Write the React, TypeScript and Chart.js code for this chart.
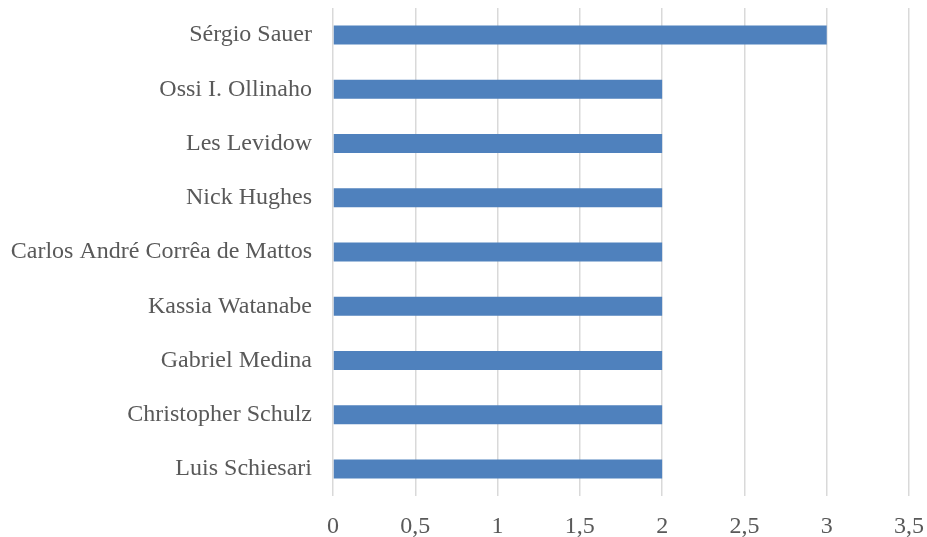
import React, { useEffect, useRef } from "react";
import { Chart, registerables } from "chart.js";

Chart.register(...registerables);

const categories = [
  "Sérgio Sauer",
  "Ossi I. Ollinaho",
  "Les Levidow",
  "Nick Hughes",
  "Carlos André Corrêa de Mattos",
  "Kassia Watanabe",
  "Gabriel Medina",
  "Christopher Schulz",
  "Luis Schiesari",
];
const values = [3, 2, 2, 2, 2, 2, 2, 2, 2];
const xMin = 0;
const xMax = 3.5;
const xStep = 0.5;

export default function App() {
  const ref = useRef<HTMLCanvasElement | null>(null);
  useEffect(() => {
    document.body.style.margin = "0";
    const font = { family: "'Liberation Serif', 'Times New Roman', serif", size: 24 };
    const chart = new Chart(ref.current!, {
      type: "bar",
      data: {
        labels: categories,
        datasets: [
          {
            data: values,
            backgroundColor: "#4F81BD",
            barPercentage: 0.7,
            categoryPercentage: 0.5,
          },
        ],
      },
      options: {
        indexAxis: "y",
        animation: false,
        responsive: false,
        maintainAspectRatio: false,
        layout: { padding: { top: 8, right: 18, left: 0, bottom: 0 } },
        plugins: { legend: { display: false }, tooltip: { enabled: false } },
        scales: {
          x: {
            min: xMin,
            max: xMax,
            ticks: {
              stepSize: xStep,
              color: "#595959",
              font,
              padding: 16,
              maxRotation: 0,
              callback: (v: any) => String(v).replace(".", ","),
            },
            grid: { color: "#D9D9D9", lineWidth: 1.5, drawTicks: false },
            border: { display: false },
            afterFit: (s: any) => {
              s.height = 41;
              s.paddingLeft = 0;
              s.paddingRight = 0;
            },
          },
          y: {
            ticks: { color: "#595959", font, padding: 21, autoSkip: false },
            grid: { display: false, drawTicks: false },
            border: { display: false },
            afterFit: (s: any) => {
              s.width = 333;
              s.paddingTop = 0;
              s.paddingBottom = 0;
            },
          },
        },
      },
    });
    return () => chart.destroy();
  }, []);
  return (
    <div style={{ width: 927, height: 537 }}>
      <canvas ref={ref} width={927} height={537} style={{ display: "block" }} />
    </div>
  );
}
